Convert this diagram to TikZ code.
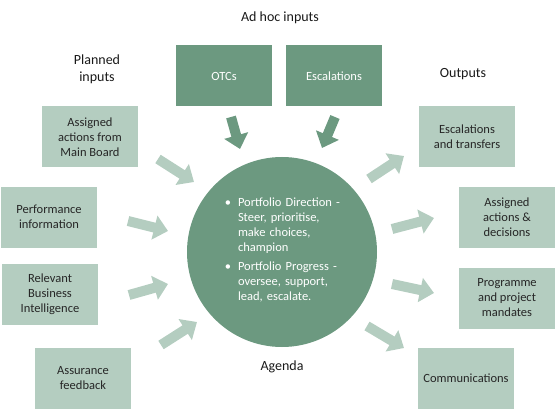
\documentclass[tikz,border=0pt]{standalone}
\usepackage{fontspec}
\setmainfont{Carlito}
\usepackage{enumitem}
\usetikzlibrary{arrows.meta}

\definecolor{boardgreen}{RGB}{108,153,128}
\definecolor{palegreen}{RGB}{180,205,192}

\tikzset{
  plainbox/.style={minimum width=96pt, minimum height=61pt, inner sep=2pt, align=center,
    font=\fontsize{12.5}{15}\selectfont},
  lightbox/.style={plainbox, fill=palegreen, text=black!85},
  darkbox/.style={plainbox, fill=boardgreen, text=white},
  heading/.style={align=center, text=black!90, font=\fontsize{14}{17}\selectfont},
  blockarrow/.style={line width=10pt, -{Triangle[width=24pt,length=14pt]}}
}

\begin{document}
\begin{tikzpicture}[x=1pt, y=-1pt]
\useasboundingbox (0,0) rectangle (557,409);
% Headings
\node[heading] (adhoc) at (280,18) {Ad hoc inputs};
\node[heading] (planned) at (97,69) {Planned\\inputs};
\node[heading] (outputs) at (463,74) {Outputs};
\node[heading] (agenda) at (282,367) {Agenda};
% The board in the middle
\node[circle, fill=boardgreen, minimum size=190pt, inner sep=0pt] (hub) at (282,252) {};
\node[text=white, text width=118pt, font=\fontsize{12.5}{15}\selectfont] (hubtext) at (285,247) {%
  \begin{itemize}[leftmargin=12pt, labelsep=7pt, itemsep=4pt, topsep=0pt, parsep=0pt, partopsep=0pt]
  \item Portfolio Direction -\\ Steer, prioritise,\\ make choices,\\ champion
  \item Portfolio Progress -\\ oversee, support,\\ lead, escalate.
  \end{itemize}};
% Ad hoc inputs
\node[darkbox] (otc) at (224,76) {OTCs};
\node[darkbox] (escal) at (334,76) {Escalations};
% Planned inputs
\node[lightbox] (assigned) at (90,137) {Assigned\\actions from\\Main Board};
\node[lightbox] (perf) at (49,217) {Performance\\information};
\node[lightbox] (bizintel) at (50,294) {Relevant\\Business\\Intelligence};
\node[lightbox] (assurance) at (83,378) {Assurance\\feedback};
% Outputs
\node[lightbox] (esctrans) at (467,137) {Escalations\\and transfers};
\node[lightbox] (decisions) at (507,217) {Assigned\\actions \&\\decisions};
\node[lightbox] (mandates) at (507,298) {Programme\\and project\\mandates};
\node[lightbox] (comms) at (466,378) {Communications};
% Ends of the arrows
\coordinate (otc-tail) at (231,117);
\coordinate (otc-tip) at (240,149);
\coordinate (escal-tail) at (335,117);
\coordinate (escal-tip) at (322,148);
\coordinate (assigned-tail) at (158,159);
\coordinate (assigned-tip) at (194,182);
\coordinate (perf-tail) at (128,221);
\coordinate (perf-tip) at (168,231);
\coordinate (bizintel-tail) at (129,295);
\coordinate (bizintel-tip) at (168,284);
\coordinate (assurance-tail) at (161,345);
\coordinate (assurance-tip) at (197,322);
\coordinate (esctrans-tail) at (369,179);
\coordinate (esctrans-tip) at (404,156);
\coordinate (decisions-tail) at (392,229);
\coordinate (decisions-tip) at (434,218);
\coordinate (mandates-tail) at (392,284);
\coordinate (mandates-tip) at (434,293);
\coordinate (comms-tail) at (367,326);
\coordinate (comms-tip) at (404,348);
% Ad hoc arrows
\draw[blockarrow, boardgreen] (otc-tail) -- (otc-tip);
\draw[blockarrow, boardgreen] (escal-tail) -- (escal-tip);
% Planned arrows
\draw[blockarrow, palegreen] (assigned-tail) -- (assigned-tip);
\draw[blockarrow, palegreen] (perf-tail) -- (perf-tip);
\draw[blockarrow, palegreen] (bizintel-tail) -- (bizintel-tip);
\draw[blockarrow, palegreen] (assurance-tail) -- (assurance-tip);
% Output arrows
\draw[blockarrow, palegreen] (esctrans-tail) -- (esctrans-tip);
\draw[blockarrow, palegreen] (decisions-tail) -- (decisions-tip);
\draw[blockarrow, palegreen] (mandates-tail) -- (mandates-tip);
\draw[blockarrow, palegreen] (comms-tail) -- (comms-tip);
\end{tikzpicture}
\end{document}
